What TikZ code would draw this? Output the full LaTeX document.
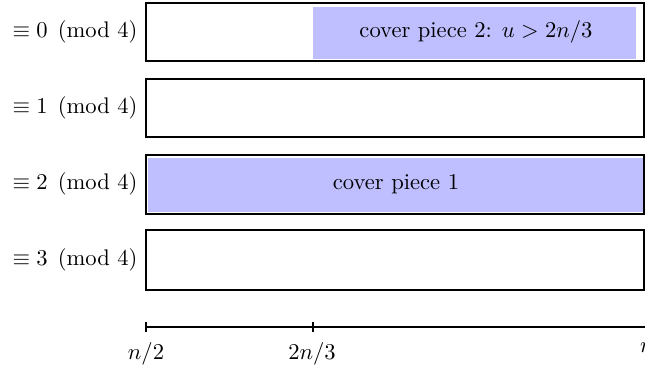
\documentclass[tikz,border=0pt]{standalone}
\usepackage{amsmath}
\begin{document}
\begin{tikzpicture}[x=0.4425pt,y=-0.4425pt]
\tikzset{
  rowbox/.style={draw=black,line width=1pt},
  cover/.style={fill=blue!25,draw=none},
  lbl/.style={anchor=east,inner sep=0pt},
  tick/.style={line width=0.6pt},
  ticklbl/.style={anchor=north,inner sep=0pt}
}
\useasboundingbox (0,0) rectangle (645,368);
% cover fills
\fill[cover] (313,7) rectangle (636,59);
\fill[cover] (148,158) rectangle (643,212);
% row boxes
\draw[rowbox] (146,3) rectangle (644,61);
\draw[rowbox] (146,79) rectangle (644,137);
\draw[rowbox] (146,155) rectangle (644,214);
\draw[rowbox] (146,230) rectangle (644,290);
% labels
\node[lbl] (l0) at (138,32) {$\equiv 0 \pmod{4}$};
\node[lbl] (l1) at (138,108) {$\equiv 1 \pmod{4}$};
\node[lbl] (l2) at (138,184) {$\equiv 2 \pmod{4}$};
\node[lbl] (l3) at (138,260) {$\equiv 3 \pmod{4}$};
\node (c2) at (476,32) {cover piece 2: $u > 2n/3$};
\node (c1) at (396,184) {cover piece 1};
% axis
\coordinate (a0) at (146,327);
\coordinate (a1) at (313,327);
\coordinate (a2) at (647,327);
\draw[line width=0.8pt] (a0) -- (a2);
\draw[tick] ([yshift=-2pt]a0) -- ([yshift=2pt]a0);
\draw[tick] ([yshift=-2pt]a1) -- ([yshift=2pt]a1);
\draw[tick] ([yshift=-2pt]a2) -- ([yshift=2pt]a2);
\node[ticklbl] (t0) at (146,342) {$n/2$};
\node[ticklbl] (t1) at (312,342) {$2n/3$};
\node[ticklbl] (t2) at (647,342) {$n$};
\end{tikzpicture}
\end{document}
